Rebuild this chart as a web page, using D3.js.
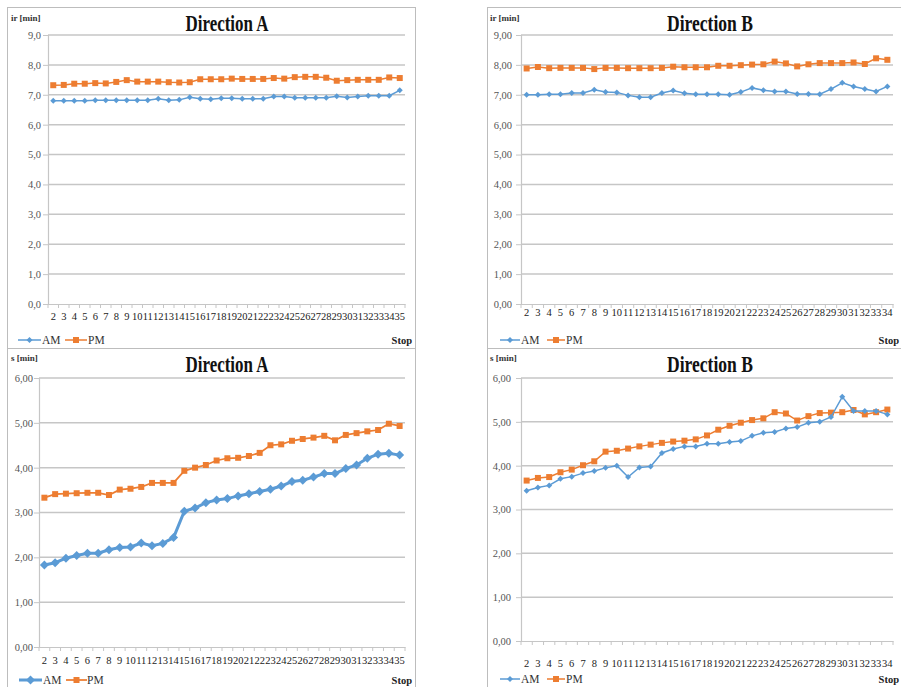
<!DOCTYPE html>
<html>
<head>
<meta charset="utf-8">
<script src="https://cdn.jsdelivr.net/npm/d3@7"></script>
<style>
  body { margin: 0; background: #fff; }
  svg { display: block; }
</style>
</head>
<body>
<script>
// Stop numbers along each route direction
const stopsA = [2,3,4,5,6,7,8,9,10,11,12,13,14,15,16,17,18,19,20,21,22,23,24,25,26,27,28,29,30,31,32,33,34,35];
const stopsB = [2,3,4,5,6,7,8,9,10,11,12,13,14,15,16,17,18,19,20,21,22,23,24,25,26,27,28,29,30,31,32,33,34];

// ir [min] — Direction A
const irA_AM = [6.80,6.80,6.80,6.80,6.82,6.82,6.82,6.82,6.82,6.82,6.87,6.82,6.83,6.92,6.87,6.85,6.88,6.88,6.87,6.87,6.87,6.94,6.94,6.90,6.90,6.90,6.90,6.95,6.91,6.94,6.97,6.97,6.97,7.15];
const irA_PM = [7.32,7.33,7.37,7.37,7.39,7.38,7.43,7.49,7.44,7.44,7.44,7.42,7.41,7.42,7.52,7.52,7.52,7.54,7.53,7.53,7.53,7.56,7.54,7.59,7.60,7.60,7.57,7.47,7.49,7.50,7.50,7.50,7.58,7.56];

// ir [min] — Direction B
const irB_AM = [7.00,7.00,7.02,7.02,7.06,7.06,7.17,7.09,7.08,6.98,6.92,6.92,7.06,7.14,7.05,7.02,7.02,7.02,7.00,7.09,7.23,7.15,7.11,7.11,7.03,7.03,7.02,7.19,7.40,7.28,7.19,7.11,7.28];
const irB_PM = [7.88,7.93,7.89,7.90,7.90,7.90,7.86,7.90,7.90,7.89,7.89,7.89,7.90,7.94,7.92,7.92,7.92,7.97,7.97,7.99,8.01,8.02,8.11,8.05,7.95,8.02,8.06,8.06,8.06,8.08,8.03,8.22,8.17];

// s [min] — Direction A
const sA_AM = [1.83,1.88,1.98,2.04,2.09,2.09,2.17,2.22,2.23,2.32,2.26,2.31,2.44,3.03,3.10,3.22,3.28,3.31,3.37,3.42,3.47,3.52,3.59,3.69,3.72,3.79,3.87,3.87,3.98,4.06,4.21,4.30,4.32,4.28];
const sA_PM = [3.33,3.41,3.42,3.43,3.44,3.44,3.39,3.51,3.53,3.57,3.66,3.66,3.66,3.93,4.00,4.06,4.16,4.21,4.22,4.26,4.33,4.50,4.52,4.60,4.64,4.67,4.71,4.61,4.73,4.77,4.81,4.84,4.98,4.93];

// s [min] — Direction B
const sB_AM = [3.43,3.50,3.55,3.70,3.75,3.83,3.88,3.95,4.00,3.74,3.96,3.98,4.29,4.38,4.44,4.44,4.50,4.50,4.54,4.56,4.68,4.75,4.77,4.85,4.88,4.98,5.00,5.11,5.57,5.25,5.25,5.25,5.17];
const sB_PM = [3.66,3.72,3.74,3.85,3.91,4.01,4.10,4.32,4.34,4.39,4.44,4.48,4.52,4.55,4.57,4.60,4.69,4.82,4.91,4.98,5.04,5.08,5.22,5.19,5.03,5.13,5.20,5.21,5.22,5.27,5.17,5.22,5.28];

// Value-axis ticks
const ticksIr = [0,1,2,3,4,5,6,7,8,9];
const ticksS = [0,1,2,3,4,5,6];

const seriesNames = ["AM", "PM"];
const titles = ["Direction A", "Direction B"];

const locale = d3.formatLocale({decimal: ",", thousands: ".", grouping: [3], currency: ["", ""]});
const fmt1 = locale.format(".1f");
const fmt2 = locale.format(".2f");

const BLUE = "#5b9bd5", ORANGE = "#ed7d31";
const SERIF = "'Liberation Serif', 'Times New Roman', serif";

const svg = d3.select("body").append("svg").attr("width", 901).attr("height", 687);

const panels = [
  { frame: [7, 7, 408, 341], plot: {l: 48, r: 405, t: 35, b: 304}, title: titles[0], titleX: 227, titleY: 31, titleLen: 83,
    ylab: "ir [min]", ylabX: 11, ylabY: 21, stops: stopsA, am: irA_AM, pm: irA_PM, ticks: ticksIr, fmt: fmt1, yRight: 41,
    xLabY: 321, legY: 340, amLine: [18, 41], amText: 42, pmLine: [65, 87], pmText: 88, stopR: 412,
    amW: 1.5, amR: 3, pmW: 1.5, pmS: 6 },
  { frame: [487, 7, 420, 341], plot: {l: 521, r: 893, t: 35, b: 304}, title: titles[1], titleX: 710, titleY: 31, titleLen: 86,
    ylab: "ir [min]", ylabX: 490, ylabY: 21, stops: stopsB, am: irB_AM, pm: irB_PM, ticks: ticksIr, fmt: fmt2, yRight: 512,
    xLabY: 317, legY: 340, amLine: [500, 520], amText: 521, pmLine: [547, 565], pmText: 566, stopR: 899,
    amW: 1.5, amR: 3, pmW: 1.5, pmS: 6 },
  { frame: [7, 348, 408, 350], plot: {l: 39, r: 405, t: 378, b: 647}, title: titles[0], titleX: 227, titleY: 372, titleLen: 83,
    ylab: "s [min]", ylabX: 11, ylabY: 361, stops: stopsA, am: sA_AM, pm: sA_PM, ticks: ticksS, fmt: fmt2, yRight: 33,
    xLabY: 665, legY: 680, amLine: [19, 42], amText: 43, pmLine: [66, 87], pmText: 87, stopR: 412,
    amW: 3, amR: 4.5, pmW: 1.75, pmS: 6 },
  { frame: [487, 348, 420, 350], plot: {l: 521, r: 893, t: 378, b: 641}, title: titles[1], titleX: 710, titleY: 372, titleLen: 86,
    ylab: "s [min]", ylabX: 490, ylabY: 361, stops: stopsB, am: sB_AM, pm: sB_PM, ticks: ticksS, fmt: fmt2, yRight: 511,
    xLabY: 668, legY: 679, amLine: [500, 520], amText: 521, pmLine: [547, 565], pmText: 566, stopR: 899,
    amW: 1.5, amR: 3, pmW: 1.5, pmS: 6 }
];

function diamond(r) { return `M0,${-r}L${r},0L0,${r}L${-r},0Z`; }
function square(s) { const h = s / 2; return `M${-h},${-h}H${h}V${h}H${-h}Z`; }

panels.forEach(p => {
  const g = svg.append("g");

  // panel frame
  g.append("rect").attr("x", p.frame[0] + 0.5).attr("y", p.frame[1] + 0.5)
    .attr("width", p.frame[2]).attr("height", p.frame[3])
    .attr("fill", "none").attr("stroke", "#bdbdbd").attr("stroke-width", 1);

  const x = d3.scaleBand().domain(p.stops).range([p.plot.l, p.plot.r]);
  const yMax = p.ticks[p.ticks.length - 1];
  const y = d3.scaleLinear().domain([0, yMax]).range([p.plot.b, p.plot.t]);

  // horizontal gridlines
  g.append("g").selectAll("line").data(p.ticks.filter(t => t > 0)).join("line")
    .attr("x1", p.plot.l).attr("x2", p.plot.r)
    .attr("y1", d => y(d)).attr("y2", d => y(d))
    .attr("stroke", "#c6c6c6").attr("stroke-width", 1.5);

  // value axis
  const yAxis = g.append("g").attr("transform", `translate(${p.plot.l},0)`)
    .call(d3.axisLeft(y).tickValues(p.ticks).tickFormat(p.fmt).tickSize(5).tickPadding(p.plot.l - p.yRight - 5));
  yAxis.select(".domain").attr("stroke", "#c6c6c6").attr("stroke-width", 1.2);
  yAxis.selectAll(".tick line").attr("stroke", "#c6c6c6");
  yAxis.selectAll("text").attr("font-family", SERIF).attr("font-size", 10.5).attr("fill", "#555");

  // category axis
  const xAxis = g.append("g").attr("transform", `translate(0,${p.plot.b})`)
    .call(d3.axisBottom(x).tickSize(0).tickPadding(p.xLabY - p.plot.b - 8));
  xAxis.select(".domain").attr("stroke", "#c6c6c6").attr("stroke-width", 1.2);
  xAxis.selectAll("text").attr("font-family", SERIF).attr("font-size", 10.5).attr("fill", "#222");
  // tick marks at category boundaries
  const bounds = p.stops.map(s => x(s)).concat([p.plot.r]);
  g.append("g").selectAll("line").data(bounds).join("line")
    .attr("x1", d => d).attr("x2", d => d)
    .attr("y1", p.plot.b).attr("y2", p.plot.b + 4)
    .attr("stroke", "#c6c6c6");

  // series
  const cx = s => x(s) + x.bandwidth() / 2;
  const line = d3.line().x(d => cx(d[0])).y(d => y(d[1]));
  const pmPts = p.stops.map((s, i) => [s, p.pm[i]]);
  const amPts = p.stops.map((s, i) => [s, p.am[i]]);

  g.append("path").datum(pmPts).attr("d", line).attr("fill", "none")
    .attr("stroke", ORANGE).attr("stroke-width", p.pmW);
  g.append("g").selectAll("path").data(pmPts).join("path")
    .attr("transform", d => `translate(${cx(d[0])},${y(d[1])})`)
    .attr("d", square(p.pmS)).attr("fill", ORANGE);

  g.append("path").datum(amPts).attr("d", line).attr("fill", "none")
    .attr("stroke", BLUE).attr("stroke-width", p.amW);
  g.append("g").selectAll("path").data(amPts).join("path")
    .attr("transform", d => `translate(${cx(d[0])},${y(d[1])})`)
    .attr("d", diamond(p.amR)).attr("fill", BLUE);

  // title
  g.append("text").attr("x", p.titleX).attr("y", p.titleY).attr("text-anchor", "middle")
    .attr("font-family", SERIF).attr("font-weight", "bold").attr("font-size", 23)
    .attr("textLength", p.titleLen).attr("lengthAdjust", "spacingAndGlyphs")
    .attr("fill", "#111").text(p.title);

  // axis name
  g.append("text").attr("x", p.ylabX).attr("y", p.ylabY)
    .attr("font-family", SERIF).attr("font-weight", "bold").attr("font-size", 9)
    .attr("fill", "#333").text(p.ylab);

  // legend
  const leg = g.append("g");
  [[p.amLine, p.amText, BLUE, seriesNames[0]], [p.pmLine, p.pmText, ORANGE, seriesNames[1]]].forEach((e, k) => {
    const [ln, tx, col, name] = e;
    leg.append("line").attr("x1", ln[0]).attr("x2", ln[1]).attr("y1", p.legY).attr("y2", p.legY)
      .attr("stroke", col).attr("stroke-width", k === 0 ? p.amW : p.pmW);
    leg.append("path").attr("transform", `translate(${(ln[0] + ln[1]) / 2},${p.legY})`)
      .attr("d", k === 0 ? diamond(p.amR) : square(p.pmS)).attr("fill", col);
    leg.append("text").attr("x", tx).attr("y", p.legY + 4)
      .attr("font-family", SERIF).attr("font-size", 11.5).attr("fill", "#333").text(name);
  });
  leg.append("text").attr("x", p.stopR).attr("y", p.legY + 4).attr("text-anchor", "end")
    .attr("font-family", SERIF).attr("font-weight", "bold").attr("font-size", 10.5)
    .attr("fill", "#222").text("Stop");
});
</script>
</body>
</html>
